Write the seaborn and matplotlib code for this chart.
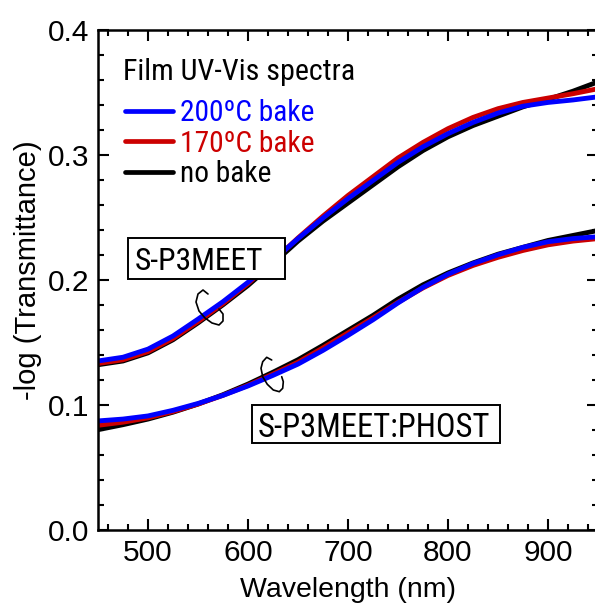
import numpy as np
import pandas as pd
import seaborn as sns
import matplotlib
matplotlib.use("Agg")
import matplotlib.pyplot as plt
from matplotlib import font_manager
from matplotlib.font_manager import FontProperties
from matplotlib.patches import Rectangle
from matplotlib.lines import Line2D

# ---- data -------------------------------------------------------------
wavelength = [450, 475, 500, 525, 550, 575, 600, 625, 650, 675, 700,
              725, 750, 775, 800, 825, 850, 875, 900, 925, 950]

# S-P3MEET film
p3meet_200 = [0.135, 0.138, 0.1445, 0.155, 0.1685, 0.1825, 0.198, 0.2155, 0.233, 0.2495, 0.265,
              0.2795, 0.294, 0.3065, 0.317, 0.326, 0.3335, 0.339, 0.342, 0.344, 0.3465]
p3meet_170 = [0.133, 0.136, 0.1425, 0.153, 0.1665, 0.181, 0.197, 0.215, 0.2335, 0.251, 0.2675,
              0.2825, 0.2975, 0.310, 0.321, 0.330, 0.337, 0.342, 0.3455, 0.349, 0.353]
p3meet_nobake = [0.132, 0.135, 0.1415, 0.152, 0.1655, 0.180, 0.1955, 0.213, 0.231, 0.247, 0.2615,
                 0.276, 0.2905, 0.3035, 0.3145, 0.3235, 0.331, 0.3385, 0.3445, 0.351, 0.3585]

# S-P3MEET:PHOST blend film
blend_200 = [0.087, 0.0885, 0.091, 0.0955, 0.101, 0.1075, 0.115, 0.1235, 0.1325, 0.1435, 0.1555,
             0.168, 0.1815, 0.194, 0.2045, 0.213, 0.220, 0.226, 0.2305, 0.233, 0.2345]
blend_170 = [0.0835, 0.086, 0.0895, 0.0945, 0.1005, 0.1075, 0.1155, 0.1245, 0.134, 0.1455, 0.1575,
             0.1695, 0.182, 0.1935, 0.2035, 0.2115, 0.218, 0.2235, 0.228, 0.231, 0.233]
blend_nobake = [0.080, 0.084, 0.0885, 0.094, 0.1005, 0.108, 0.1165, 0.126, 0.136, 0.1475, 0.1595,
                0.1715, 0.1845, 0.196, 0.2055, 0.2135, 0.2205, 0.226, 0.2315, 0.2355, 0.2395]

bake_labels = ["200ºC bake", "170ºC bake", "no bake"]
bake_colors = ["#0000ff", "#cc0000", "#000000"]
film_labels = ["S-P3MEET", "S-P3MEET:PHOST"]
panel_title = "Film UV-Vis spectra"

# ---- fonts ------------------------------------------------------------
def have_font(name):
    try:
        font_manager.findfont(name, fallback_to_default=False)
        return True
    except Exception:
        return False

main_font = "Liberation Sans" if have_font("Liberation Sans") else "DejaVu Sans"


def find_narrow_file():
    """Look for a condensed sans-serif face for the in-plot annotations."""
    prefs = ["Liberation Sans Narrow", "Arial Narrow", "Roboto Condensed",
             "Open Sans Condensed", "Noto Sans", "Open Sans", "Roboto", "DejaVu Sans"]
    narrow_stretch = {"condensed", "semi-condensed", "extra-condensed", "ultra-condensed"}
    found = {}
    for f in font_manager.fontManager.ttflist:
        name = f.name
        cond = (str(f.stretch) in narrow_stretch or "Narrow" in name or "Condensed" in name
                or "Condensed" in f.fname or "Narrow" in f.fname)
        if not cond or f.style != "normal":
            continue
        try:
            w = int(f.weight)
        except Exception:
            w = 400 if str(f.weight) in ("normal", "regular", "book") else 700
        if w != 400:
            continue
        if name not in found:
            found[name] = f.fname
    for p in prefs:
        if p in found:
            return found[p]
    return None

narrow_file = find_narrow_file()


def narrow_props(size):
    if narrow_file:
        return FontProperties(fname=narrow_file, size=size)
    return FontProperties(family=main_font, size=size)


sns.set_theme(style="ticks")
plt.rcParams["font.family"] = [main_font, "DejaVu Sans"]
plt.rcParams["axes.linewidth"] = 1.8

# ---- long-form table --------------------------------------------------
series = {
    ("S-P3MEET", "200ºC bake"): p3meet_200,
    ("S-P3MEET", "170ºC bake"): p3meet_170,
    ("S-P3MEET", "no bake"): p3meet_nobake,
    ("S-P3MEET:PHOST", "200ºC bake"): blend_200,
    ("S-P3MEET:PHOST", "170ºC bake"): blend_170,
    ("S-P3MEET:PHOST", "no bake"): blend_nobake,
}
rows = []
for (film, bake), vals in series.items():
    for w, v in zip(wavelength, vals):
        rows.append({"film": film, "bake": bake, "wavelength": w, "absorbance": v})
df = pd.DataFrame(rows)

# ---- figure -----------------------------------------------------------
W, H = 595, 603
fig = plt.figure(figsize=(W / 100, H / 100), dpi=100)
ax = fig.add_axes([98 / W, 1 - 529.6 / H, 500 / W, 499.6 / H])

palette = dict(zip(bake_labels, bake_colors))
sns.lineplot(data=df, x="wavelength", y="absorbance", hue="bake", units="film",
             estimator=None, hue_order=["no bake", "170ºC bake", "200ºC bake"],
             palette=palette, lw=3.5, legend=False, ax=ax)

ax.set_xlim(450, 950)
ax.set_ylim(0.0, 0.4)
ax.set_xticks([500, 600, 700, 800, 900])
ax.set_xticks(np.arange(460, 950, 20), minor=True)
ax.set_yticks([0.0, 0.1, 0.2, 0.3, 0.4])
ax.set_yticks(np.arange(0.0, 0.401, 0.02), minor=True)
ax.set_yticklabels(["0.0", "0.1", "0.2", "0.3", "0.4"])
ax.tick_params(which="both", direction="in", top=True, right=True, width=1.5,
               color="black", labelsize=21.5, labelcolor="black")
ax.tick_params(which="major", length=8)
ax.tick_params(which="minor", length=4.5)
ax.tick_params(axis="x", which="major", pad=7)
ax.tick_params(axis="y", which="major", pad=6)
for s in ax.spines.values():
    s.set_color("black")
    s.set_linewidth(1.8)

ax.set_xlabel("Wavelength (nm)", fontsize=20.5, color="black")
ax.set_ylabel("-log (Transmittance)", fontsize=21, color="black")
ax.xaxis.set_label_coords(0.5, -0.095)
ax.yaxis.set_label_coords(-0.112, 0.52)

# pixel (top-down) -> data helpers for annotation placement
px2x = lambda px: 450 + (px - 98)
px2y = lambda py: (529.6 - py) / 1249.0

renderer = fig.canvas.get_renderer()


def fitted_size(text, width_px, base=22.0):
    """Font size at which `text` spans about width_px pixels."""
    fp = narrow_props(base)
    w, _, _ = renderer.get_text_width_height_descent(text, fp, ismath=False)
    return base * width_px / max(w, 1.0)


# ---- title + legend ---------------------------------------------------
title_size = fitted_size(panel_title, 232)
ax.text(px2x(123), px2y(80), panel_title, fontproperties=narrow_props(title_size),
        color="black", ha="left", va="baseline")

leg_size = fitted_size(bake_labels[0], 135)
leg_fp = narrow_props(leg_size)
fs_px = leg_size * 100 / 72.0
handles = [Line2D([], [], color=c, lw=3.4) for c in bake_colors]


def make_legend(anchor, spacing):
    return ax.legend(handles, bake_labels, loc="upper left",
                     bbox_to_anchor=anchor, bbox_transform=fig.transFigure,
                     frameon=False, borderpad=0, borderaxespad=0,
                     handlelength=48 / fs_px, handletextpad=7 / fs_px,
                     labelspacing=spacing, labelcolor="linecolor", prop=leg_fp)


def baselines(leg):
    out = []
    for t in leg.get_texts():
        bb = t.get_window_extent(renderer)
        _, _, d = renderer.get_text_width_height_descent(t.get_text(), leg_fp, ismath=False)
        out.append(H - (bb.y0 + d))
    return out

anchor = [125 / W, 1 - 100 / H]
spacing = 0.1
target_base = [127.0, 158.0, 188.5]
for _ in range(3):
    leg = make_legend(tuple(anchor), spacing)
    fig.canvas.draw()
    b = baselines(leg)
    step = (b[-1] - b[0]) / 2.0
    spacing += ((target_base[-1] - target_base[0]) / 2.0 - step) / fs_px
    anchor[1] -= (target_base[0] - b[0]) / H
leg = make_legend(tuple(anchor), spacing)

# ---- film labels ------------------------------------------------------
box_kw = dict(fill=True, fc="white", ec="black", lw=1.4, zorder=5)
ax.add_patch(Rectangle((px2x(128), px2y(279)), 157, px2y(238) - px2y(279), **box_kw))
ax.text(px2x(135), px2y(270), film_labels[0],
        fontproperties=narrow_props(fitted_size(film_labels[0], 129)),
        color="black", ha="left", va="baseline", zorder=6)
ax.add_patch(Rectangle((px2x(252), px2y(443)), 248, px2y(405) - px2y(443), **box_kw))
ax.text(px2x(258), px2y(436.7), film_labels[1],
        fontproperties=narrow_props(fitted_size(film_labels[1], 232)),
        color="black", ha="left", va="baseline", zorder=6)

# curly markers tying each label to its set of curves
curl_a = [(208, 294), (203, 290), (198, 294), (196, 302), (199, 311), (205, 318),
          (212, 323), (219, 325), (223, 321), (223, 314), (219, 309)]
curl_b = [(271.7, 360), (266.7, 357.3), (262.7, 361.7), (261, 368.3), (262.7, 376.7),
          (267.3, 384.3), (273.3, 390), (279.3, 391.7), (282.7, 388.3), (283.3, 381.7),
          (281.7, 376.7)]
for curl in (curl_a, curl_b):
    ax.plot([px2x(p[0]) for p in curl], [px2y(p[1]) for p in curl],
            color="black", lw=1.2, zorder=4, solid_capstyle="round")

fig.savefig("out.png", dpi=100, facecolor="white")
